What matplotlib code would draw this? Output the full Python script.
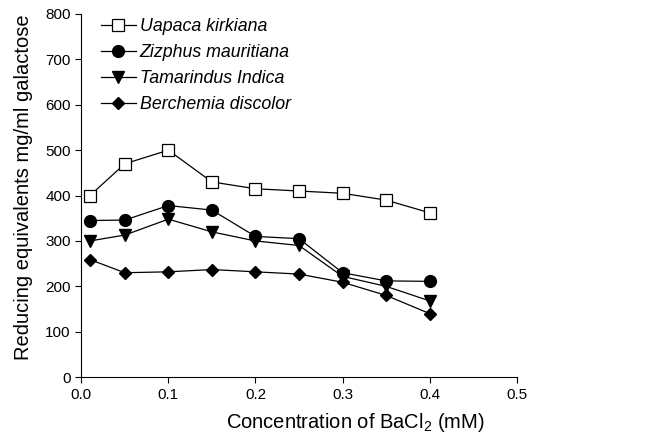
import matplotlib
matplotlib.use('Agg')
import matplotlib.pyplot as plt

plt.rcParams['font.family'] = ['Liberation Sans', 'DejaVu Sans']
plt.rcParams['mathtext.fontset'] = 'custom'
plt.rcParams['mathtext.rm'] = 'Liberation Sans'

# BaCl2 concentration (mM)
conc = [0.01, 0.05, 0.1, 0.15, 0.2, 0.25, 0.3, 0.35, 0.4]

uapaca = [400, 470, 500, 430, 415, 410, 405, 390, 362]
zizphus = [345, 346, 378, 368, 310, 305, 230, 212, 211]
tamarindus = [300, 313, 348, 320, 300, 290, 222, 200, 168]
berchemia = [259, 230, 232, 237, 232, 227, 209, 180, 140]

names = ['Uapaca kirkiana', 'Zizphus mauritiana', 'Tamarindus Indica', 'Berchemia discolor']

fig = plt.figure(figsize=(6.5, 4.37), dpi=100)
ax = fig.add_axes([0.125, 0.137, 0.67, 0.831])

ax.plot(conc, uapaca, color='black', lw=0.9, marker='s', ms=8.5, mfc='white', mec='black', mew=0.9, label=names[0])
ax.plot(conc, zizphus, color='black', lw=0.9, marker='o', ms=8.5, label=names[1])
ax.plot(conc, tamarindus, color='black', lw=0.9, marker='v', ms=8.5, label=names[2])
ax.plot(conc, berchemia, color='black', lw=0.9, marker='D', ms=6.5, label=names[3])

ax.set_xlim(0, 0.5)
ax.set_ylim(0, 800)
ax.set_xticks([0.0, 0.1, 0.2, 0.3, 0.4, 0.5])
ax.set_xticklabels(['0.0', '0.1', '0.2', '0.3', '0.4', '0.5'])
ax.set_yticks(range(0, 801, 100))
ax.tick_params(direction='out', length=4, width=0.8, labelsize=11)
ax.spines['top'].set_visible(False)
ax.spines['right'].set_visible(False)

ax.set_xlabel(r'Concentration of BaCl$_2$ (mM)', fontsize=14.5)
ax.xaxis.set_label_coords(0.63, -0.094)
ax.set_ylabel('Reducing equivalents mg/ml galactose', fontsize=14.5)
ax.yaxis.set_label_coords(-0.111, 0.522)

leg = ax.legend(loc='upper left', bbox_to_anchor=(0.02, 1.017), frameon=False,
                prop={'style': 'italic', 'size': 12.8}, handlelength=2.0,
                handletextpad=0.2, labelspacing=0.5, borderaxespad=0.2)

fig.savefig('out.png', dpi=100)
